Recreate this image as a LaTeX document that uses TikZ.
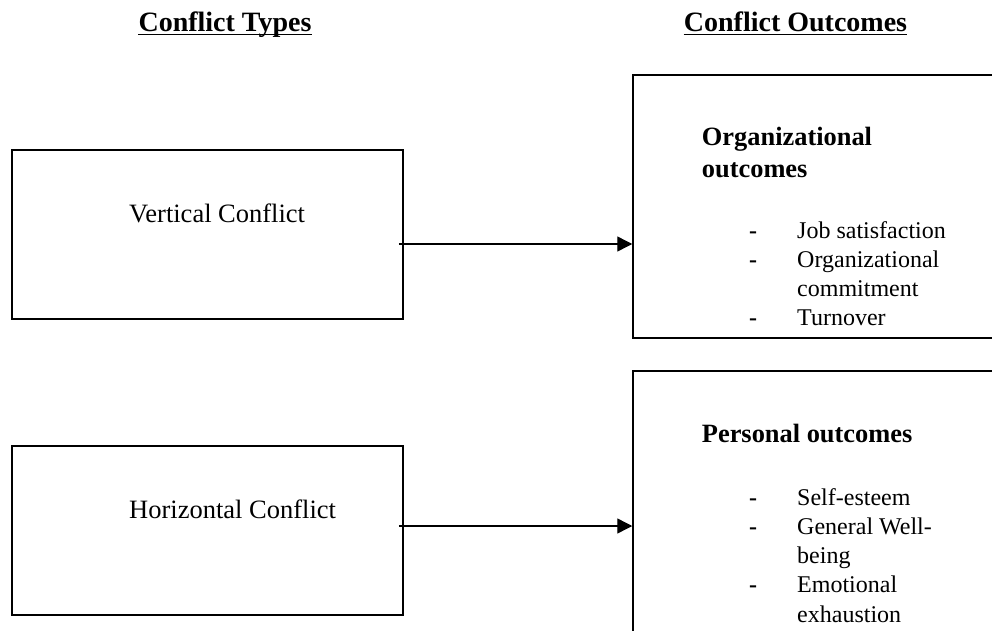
\documentclass[tikz,border=0pt]{standalone}
\usepackage{fontspec}
\setmainfont{Liberation Serif}
\usetikzlibrary{arrows.meta}
\begin{document}
\begin{tikzpicture}[x=1pt,y=-1pt,
  box/.style={draw,line width=1.5pt,inner sep=0pt},
  hdr/.style={font=\fontsize{28}{32}\selectfont\bfseries,inner sep=0pt,anchor=base},
  lbl/.style={font=\fontsize{26.5}{31}\selectfont,inner sep=0pt,anchor=base west},
  ttl/.style={font=\fontsize{26.4}{31}\selectfont\bfseries,inner sep=0pt,anchor=base west},
  itm/.style={font=\fontsize{24}{29}\selectfont,inner sep=0pt,anchor=base west},
  dsh/.style={font=\fontsize{24}{29}\selectfont\bfseries,inner sep=0pt,anchor=base west},
  conn/.style={line width=1.4pt,-{Triangle[length=15pt,width=15pt]}},
  uline/.style={line width=1.5pt}]
\useasboundingbox (0,0) rectangle (992,631);
\clip (0,0) rectangle (992,631);
% headers
\node[hdr] (h1) at (225,31.7) {Conflict Types};
\node[hdr] (h2) at (795.5,31.7) {Conflict Outcomes};
\draw[uline] ([yshift=-3pt]h1.base west) -- ([yshift=-3pt]h1.base east);
\draw[uline] ([yshift=-3pt]h2.base west) -- ([yshift=-3pt]h2.base east);
% left boxes
\node[box,minimum width=391pt,minimum height=169pt] (vbox) at (207.5,234.5) {};
\node[box,minimum width=391pt,minimum height=169pt] (hbox) at (207.5,530.5) {};
\node[lbl] (vtxt) at (129,222) {Vertical Conflict};
\node[lbl] (htxt) at (129,518) {Horizontal Conflict};
% right boxes (cut off at the right and bottom edges)
\node[box,minimum width=467pt,minimum height=263pt] (obox) at (866.5,206.5) {};
\node[box,minimum width=467pt,minimum height=329pt] (pbox) at (866.5,535.5) {};
% organizational outcomes
\node[ttl] (ot1) at (701.7,146) {Organizational};
\node[ttl] (ot2) at (701.7,178) {outcomes};
\node[dsh] (od1) at (749,238) {-};
\node[itm] (oi1) at (797,238) {Job satisfaction};
\node[dsh] (od2) at (749,267.3) {-};
\node[itm] (oi2) at (797,267.3) {Organizational};
\node[itm] (oi3) at (797,296.6) {commitment};
\node[dsh] (od3) at (749,325.9) {-};
\node[itm] (oi4) at (797,325.9) {Turnover};
% personal outcomes
\node[ttl] (pt1) at (701.7,442.7) {Personal outcomes};
\node[dsh] (pd1) at (749,505) {-};
\node[itm] (pi1) at (797,505) {Self-esteem};
\node[dsh] (pd2) at (749,534.3) {-};
\node[itm] (pi2) at (797,534.3) {General Well-};
\node[itm] (pi3) at (797,563.6) {being};
\node[dsh] (pd3) at (749,592.9) {-};
\node[itm] (pi4) at (797,592.9) {Emotional};
\node[itm] (pi5) at (797,622.2) {exhaustion};
% connectors
\coordinate (a1) at ([shift={(-5,9.5)}]vbox.east);
\coordinate (a2) at ([shift={(-5,-4.5)}]hbox.east);
\draw[conn] (a1) -- (a1 -| obox.west);
\draw[conn] (a2) -- (a2 -| pbox.west);
\end{tikzpicture}
\end{document}
